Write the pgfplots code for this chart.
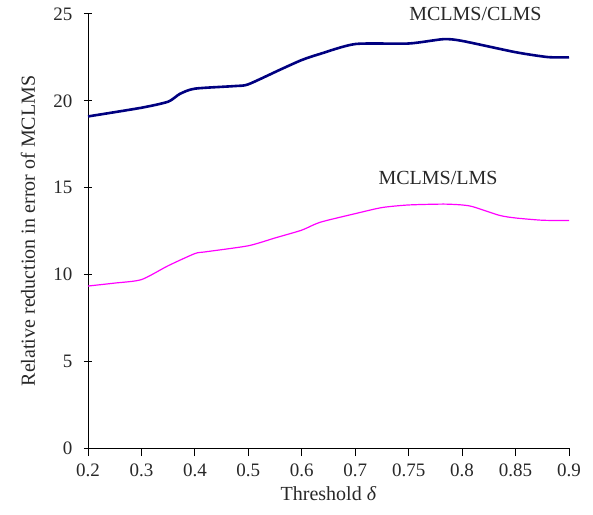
\documentclass[border=0pt]{standalone}
\usepackage{pgfplots}
\pgfplotsset{compat=1.18}
\usepackage{fontspec}
\setmainfont{Liberation Serif}
\definecolor{navyline}{RGB}{0,0,128}
\definecolor{magline}{RGB}{255,0,255}
\definecolor{txt}{RGB}{40,40,40}

\begin{document}
\begin{tikzpicture}
\begin{axis}[
    scale only axis,
    width=481pt, height=434pt,
    axis lines=left,
    axis line style={-, line width=1pt, black},
    xmin=0, xmax=9, ymin=0, ymax=25,
    xtick={0,...,9},
    xticklabels={0.2,0.3,0.4,0.5,0.6,0.7,0.75,0.8,0.85,0.9},
    ytick={0,5,...,25},
    x tick style={line width=1pt, black},
    y tick style={line width=1pt, black},
    xtick align=outside,
    ytick align=center,
    major tick length=8pt,
    tick label style={font=\fontsize{19}{21}\selectfont, text=txt},
    yticklabel style={xshift=-8pt},
    xticklabel style={yshift=-4pt},
    /pgf/number format/assume math mode=true,
    xlabel={Threshold \textit{δ}},
    ylabel={Relative reduction in error of MCLMS},
    label style={font=\fontsize{20}{22}\selectfont, text=txt},
    xlabel style={at={(axis description cs:0.5,-0.106)}, anchor=center},
    ylabel style={at={(axis description cs:-0.125,0.5)}, anchor=center},
    clip=false,
]
% MCLMS/CLMS
\addplot[navyline, line width=2.6pt, smooth, tension=0.4] coordinates {
    (0,19.1) (1,19.6) (1.5,19.95) (1.72,20.4) (2,20.7) (2.75,20.85) (3,20.95)
    (3.6,21.8) (4,22.35) (4.34,22.7) (5,23.27) (6,23.3) (6.65,23.55)
    (7,23.45) (8,22.8) (8.6,22.52) (9,22.5)
};
% MCLMS/LMS
\addplot[magline, line width=1.2pt, smooth, tension=0.4] coordinates {
    (0,9.33) (0.5,9.5) (1,9.7) (1.5,10.5) (2,11.2) (2.2,11.3) (3,11.65)
    (3.5,12.1) (4,12.55) (4.34,13.0) (5,13.5) (5.5,13.85) (6,14.0) (6.65,14.05)
    (7,14.0) (7.2,13.9) (7.7,13.4) (8,13.25) (8.5,13.12) (9,13.1)
};
\node[font=\fontsize{20}{22}\selectfont, text=txt] at (axis cs:7.25,25.0) {MCLMS/CLMS};
\node[font=\fontsize{20}{22}\selectfont, text=txt] at (axis cs:6.55,15.55) {MCLMS/LMS};
\end{axis}
\pgfresetboundingbox
\path (current axis.south west) ++(-88pt,-66pt) rectangle ++(593pt,514pt);
\end{tikzpicture}
\end{document}
